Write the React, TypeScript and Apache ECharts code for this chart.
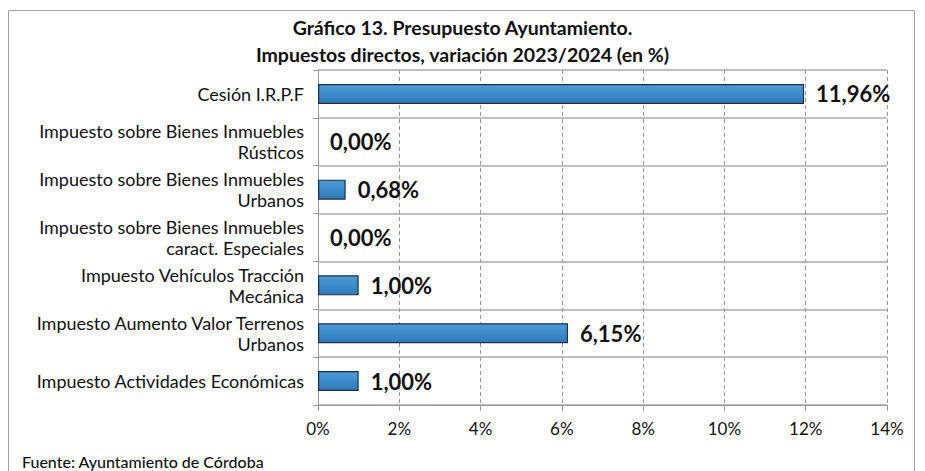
import React, { useEffect, useRef } from "react";
import * as echarts from "echarts";

const categories = [
  "Cesión I.R.P.F",
  "Impuesto sobre Bienes Inmuebles\nRústicos",
  "Impuesto sobre Bienes Inmuebles\nUrbanos",
  "Impuesto sobre Bienes Inmuebles\ncaract. Especiales",
  "Impuesto Vehículos Tracción\nMecánica",
  "Impuesto Aumento Valor Terrenos\nUrbanos",
  "Impuesto Actividades Económicas",
];
const values = [11.96, 0.0, 0.68, 0.0, 1.0, 6.15, 1.0];
const titleLines = ["Gráfico 13. Presupuesto Ayuntamiento.", "Impuestos directos, variación 2023/2024 (en %)"];
const sourceText = "Fuente: Ayuntamiento de Córdoba";

const FONT = "Lato, 'Noto Sans', sans-serif";

export default function App() {
  const ref = useRef<HTMLDivElement>(null);
  useEffect(() => {
    if (!ref.current) return;
    const chart = echarts.init(ref.current, undefined, { renderer: "svg" });
    chart.setOption({
      animation: false,
      backgroundColor: "#ffffff",
      textStyle: { fontFamily: FONT },
      title: {
        text: titleLines.join("\n"),
        left: "center",
        top: 9,
        textStyle: { fontFamily: FONT, fontSize: 19.5, fontWeight: "bold", color: "#111", lineHeight: 27 },
      },
      graphic: [
        {
          type: "rect",
          shape: { x: 8.5, y: 10.5, width: 906, height: 480 },
          style: { fill: "none", stroke: "#a0a0a0", lineWidth: 1 },
        },
        {
          type: "text",
          x: 22,
          y: 461,
          style: { text: sourceText, font: `500 16px ${FONT}`, fill: "#111", verticalAlign: "middle" },
        },
      ],
      grid: { left: 318, right: 38, top: 70, bottom: 66, containLabel: false },
      xAxis: {
        type: "value",
        min: 0,
        max: 14,
        interval: 2,
        axisLabel: {
          formatter: (v: number) => `${v}%`,
          fontSize: 17,
          color: "#111",
          fontFamily: FONT,
          margin: 15,
        },
        axisLine: { show: true, lineStyle: { color: "#999" } },
        axisTick: { show: true, length: 6, lineStyle: { color: "#999" } },
        splitLine: { show: true, lineStyle: { color: "#999", type: [4, 3], width: 1 } },
      },
      yAxis: {
        type: "category",
        inverse: true,
        data: categories,
        axisLabel: {
          fontSize: 18,
          color: "#111",
          fontFamily: FONT,
          align: "right",
          lineHeight: 21,
          margin: 14,
        },
        axisLine: { show: true, lineStyle: { color: "#999" } },
        axisTick: { show: true, length: 5, lineStyle: { color: "#999" } },
        splitLine: { show: true, lineStyle: { color: "#aaa", width: 1.5 } },
      },
      series: [
        {
          type: "bar",
          data: values.map((v) => ({ value: v, itemStyle: v === 0 ? { borderWidth: 0 } : undefined })),
          barWidth: 20,
          itemStyle: {
            color: new echarts.graphic.LinearGradient(0, 0, 0, 1, [
              { offset: 0, color: "#4a9ad6" },
              { offset: 0.5, color: "#3a8ccc" },
              { offset: 1, color: "#2f78b4" },
            ]),
            borderColor: "#1c3047",
            borderWidth: 1.2,
          },
          label: {
            show: true,
            position: "right",
            distance: 12,
            formatter: (p: any) => `${p.value.toFixed(2).replace(".", ",")}%`,
            fontSize: 22,
            fontWeight: "bold",
            color: "#111",
            fontFamily: FONT,
          },
        },
      ],
    });
    return () => chart.dispose();
  }, []);
  return (
    <div
      ref={ref}
      style={{ position: "fixed", left: 0, top: 0, width: 925, height: 471 }}
    />
  );
}
